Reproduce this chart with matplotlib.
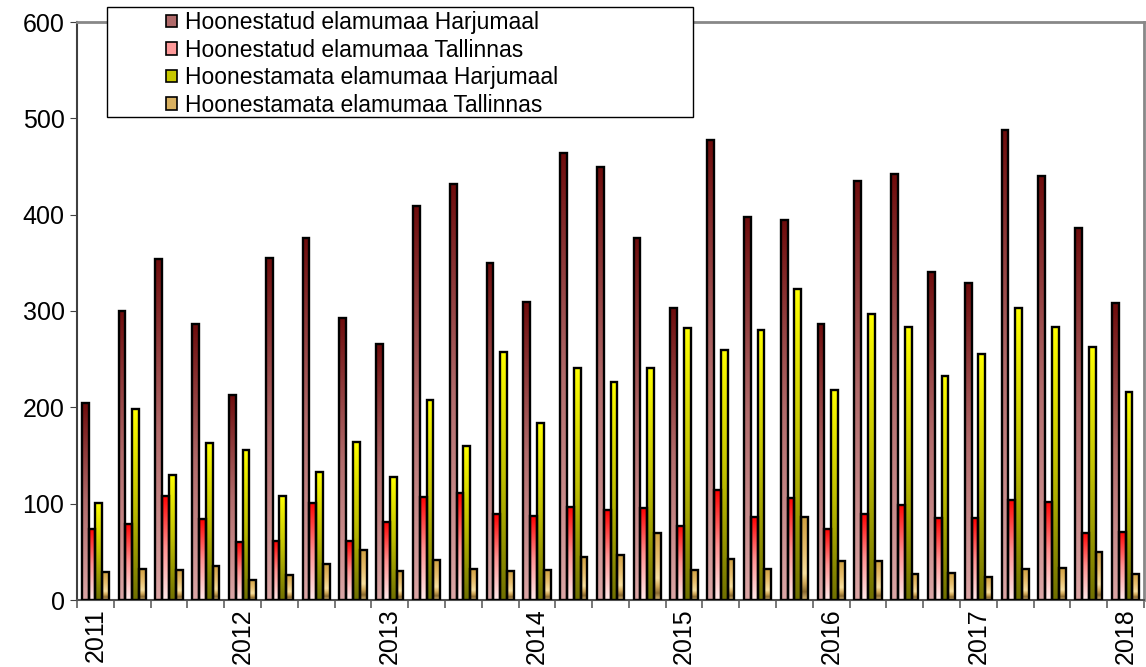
import matplotlib
matplotlib.use('Agg')
import matplotlib.pyplot as plt
import numpy as np
from matplotlib.colors import LinearSegmentedColormap
from matplotlib.patches import Patch, Rectangle

plt.rcParams['font.family'] = ['Liberation Sans', 'DejaVu Sans']

years = ['2011', '2012', '2013', '2014', '2015', '2016', '2017', '2018']
series_names = ['Hoonestatud elamumaa Harjumaal',
                'Hoonestatud elamumaa Tallinnas',
                'Hoonestamata elamumaa Harjumaal',
                'Hoonestamata elamumaa Tallinnas']

built_harju = [204, 300, 354, 287, 213, 355, 376, 293, 266, 409, 432, 350, 309, 464, 449,
               376, 303, 478, 398, 394, 287, 435, 442, 341, 329, 488, 440, 386, 308]
built_tallinn = [74, 79, 108, 84, 60, 61, 101, 61, 81, 107, 111, 89, 87, 97, 93,
                 96, 77, 114, 86, 106, 74, 89, 99, 85, 85, 104, 102, 70, 71]
vacant_harju = [101, 198, 130, 163, 156, 108, 133, 164, 128, 208, 160, 257, 184, 241, 226,
                241, 282, 260, 280, 323, 218, 297, 283, 233, 255, 303, 283, 263, 216]
vacant_tallinn = [29, 32, 31, 35, 21, 26, 37, 52, 30, 42, 32, 30, 31, 45, 47,
                  70, 31, 43, 32, 86, 40, 41, 27, 28, 24, 32, 33, 50, 27]

series = [built_harju, built_tallinn, vacant_harju, vacant_tallinn]

# gradient stops, bottom -> top
grads = [
    [(0.0, '#dba6a6'), (0.5, '#b06a6a'), (1.0, '#6e0c0c')],
    [(0.0, '#ffeaea'), (0.5, '#ff9090'), (1.0, '#ff0000')],
    [(0.0, '#6f6f00'), (0.5, '#c0c000'), (1.0, '#ffff00')],
    [(0.0, '#d8b878'), (0.1, '#8a6a30'), (0.2, '#d0a858'), (0.32, '#f8e0a0'),
     (0.6, '#e8c070'), (1.0, '#d0a040')],
]
legend_colors = ['#b06a6a', '#ff9a9a', '#c8c800', '#d8b060']
cmaps = [LinearSegmentedColormap.from_list('g%d' % i, g) for i, g in enumerate(grads)]

n = len(built_harju)
fig = plt.figure(figsize=(11.46, 6.67), dpi=100)
ax = fig.add_axes([77 / 1146, 67 / 667, (1144 - 77) / 1146, (600 - 22) / 667])

bw = 0.185
x = np.arange(n)
grad = np.linspace(0, 1, 256).reshape(-1, 1)
for k, vals in enumerate(series):
    left = x - 2 * bw + k * bw
    for xi, v in zip(left, vals):
        ax.imshow(grad, cmap=cmaps[k], origin='lower', aspect='auto',
                  extent=[xi, xi + bw, 0, v], zorder=2, interpolation='bilinear')
    ax.bar(left, vals, width=bw, align='edge', fill=False,
           edgecolor='black', linewidth=1.7, zorder=3)

ax.set_xlim(-0.5, n - 0.5)
ax.set_ylim(0, 600)
ax.set_yticks(range(0, 601, 100))
ax.tick_params(axis='y', labelsize=18, length=5, direction='out', color='#404040', pad=4)

ax.set_xticks(x[::4])
ax.set_xticklabels(years, rotation=90, fontsize=18)
ax.tick_params(axis='x', which='major', length=0, pad=6)
ax.set_xticks(np.arange(n + 1) - 0.5, minor=True)
ax.tick_params(axis='x', which='minor', length=6, direction='out', color='#606060', width=1.2)

ax.spines['left'].set_color('#404040')
ax.spines['left'].set_linewidth(1.5)
ax.spines['bottom'].set_color('#505050')
ax.spines['bottom'].set_linewidth(1.5)
for s in ['top', 'right']:
    ax.spines[s].set_color('#888888')
    ax.spines[s].set_linewidth(2)

# legend box
fig.patches.append(Rectangle((107 / 1146, 1 - 117 / 667), (693 - 107) / 1146, 110 / 667,
                             transform=fig.transFigure, facecolor='white',
                             edgecolor='black', linewidth=1, zorder=5))
handles = [Patch(facecolor=c, edgecolor='black', linewidth=1.2) for c in legend_colors]
leg = fig.legend(handles, series_names, loc='upper left',
                 bbox_to_anchor=(155 / 1146, 1 + 0.5 / 667), frameon=False,
                 fontsize=16.5, handlelength=0.45, handleheight=0.45, handletextpad=0.35,
                 labelspacing=0.2, borderpad=0.0)
leg.set_zorder(6)

fig.savefig('out.png', dpi=100)
